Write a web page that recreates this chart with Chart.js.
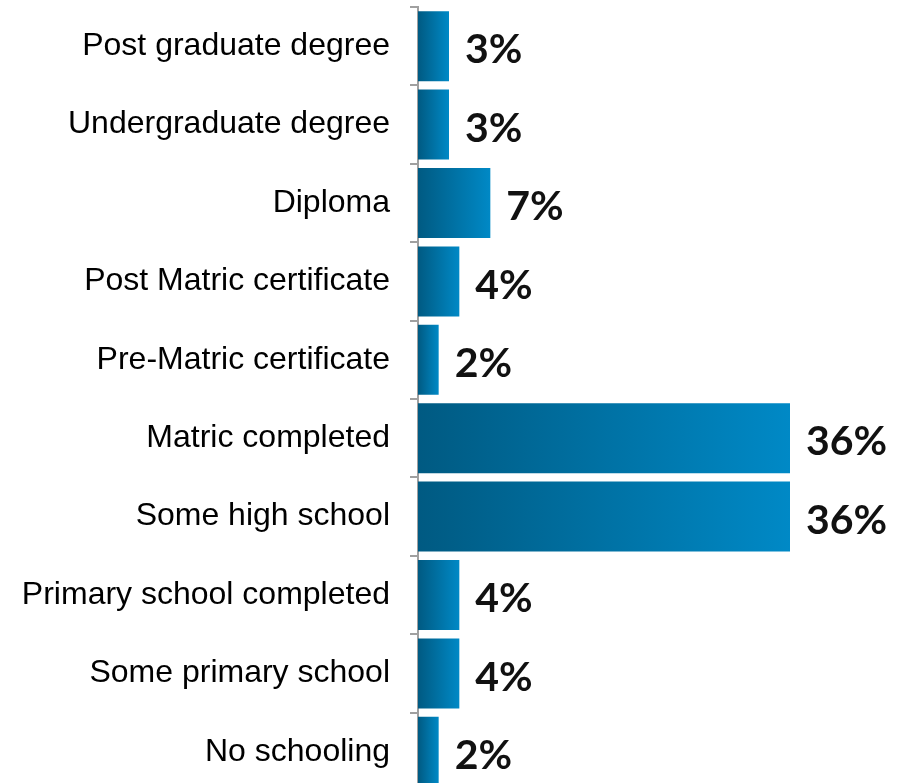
<!DOCTYPE html>
<html>
<head>
<meta charset="utf-8">
<script src="https://cdn.jsdelivr.net/npm/chart.js@4/dist/chart.umd.min.js"></script>
<style>
html,body{margin:0;padding:0;background:#fff;overflow:hidden;}
#wrap{width:900px;height:783px;overflow:hidden;position:relative;}
canvas{display:block;}
</style>
</head>
<body>
<div id="wrap"><canvas id="c" width="900" height="791"></canvas></div>
<script>
const categories = [
  "Post graduate degree",
  "Undergraduate degree",
  "Diploma",
  "Post Matric certificate",
  "Pre-Matric certificate",
  "Matric completed",
  "Some high school",
  "Primary school completed",
  "Some primary school",
  "No schooling"
];
const values = [3, 3, 7, 4, 2, 36, 36, 4, 4, 2];
const valueLabels = ["3%", "3%", "7%", "4%", "2%", "36%", "36%", "4%", "4%", "2%"];

function barGradient(ctx) {
  const chart = ctx.chart;
  if (!chart.chartArea || !chart.scales.x) return '#0077ad';
  const xs = chart.scales.x;
  const x0 = xs.getPixelForValue(0);
  const x1 = xs.getPixelForValue(ctx.raw);
  if (!isFinite(x0) || !isFinite(x1) || x1 - x0 < 1) return '#0077ad';
  const g = chart.ctx.createLinearGradient(x0, 0, x1, 0);
  g.addColorStop(0, '#005a82');
  g.addColorStop(1, '#0089c6');
  return g;
}

const labelPlugin = {
  id: 'valueLabels',
  afterDatasetsDraw(chart) {
    const c = chart.ctx;
    const meta = chart.getDatasetMeta(0);
    c.save();
    c.font = 'bold 41px Lato';
    c.fillStyle = '#111111';
    c.textAlign = 'left';
    c.textBaseline = 'middle';
    meta.data.forEach((bar, i) => {
      c.fillText(valueLabels[i], bar.x + 16, bar.y + 4);
    });
    c.restore();
  }
};

new Chart(document.getElementById('c'), {
  type: 'bar',
  data: {
    labels: categories,
    datasets: [{
      data: values,
      backgroundColor: barGradient,
      borderWidth: 0,
      categoryPercentage: 1,
      barPercentage: 0.893
    }]
  },
  options: {
    indexAxis: 'y',
    responsive: false,
    animation: false,
    devicePixelRatio: 1,
    layout: { padding: { top: 7, right: 110, bottom: 0, left: 0 } },
    plugins: { legend: { display: false }, tooltip: { enabled: false }, title: { display: false } },
    scales: {
      x: { display: false, min: 0, max: 36 },
      y: {
        offset: true,
        grid: {
          display: true,
          drawOnChartArea: false,
          drawTicks: true,
          tickLength: 8,
          offset: true,
          color: '#a0a0a0',
          lineWidth: 2
        },
        border: { display: true, color: '#a0a0a0', width: 2 },
        ticks: {
          padding: 20,
          color: '#000000',
          font: { family: "'Liberation Sans', Arial, sans-serif", size: 32 }
        },
        afterFit(axis) {
          axis.width = 418;
          axis.paddingTop = 0;
          axis.paddingBottom = 0;
        }
      }
    }
  },
  plugins: [labelPlugin]
});
</script>
</body>
</html>
